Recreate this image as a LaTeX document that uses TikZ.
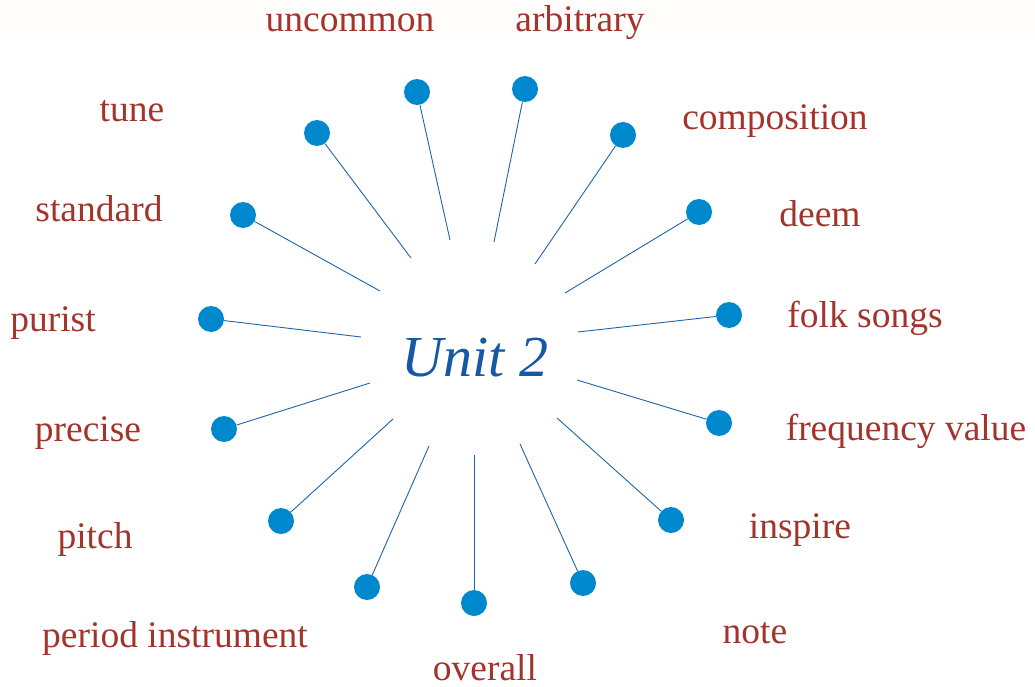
\documentclass[tikz,border=0pt]{standalone}
\usepackage{fontspec}
\setmainfont{Liberation Serif}
\definecolor{lbl}{RGB}{163,52,44}
\definecolor{dotc}{RGB}{0,136,207}
\definecolor{linec}{RGB}{30,100,170}
\definecolor{unitc}{RGB}{22,88,166}
\definecolor{band}{RGB}{254,253,252}
\begin{document}
\begin{tikzpicture}[x=1pt,y=-1pt,
  dotn/.style={circle,fill=dotc,inner sep=0pt,minimum size=26pt},
  lbln/.style={text=lbl,font=\fontsize{37.5}{40}\selectfont,inner sep=0pt},
  spoke/.style={draw=linec,line width=0.9pt}]
\useasboundingbox (0,0) rectangle (1035,687);
\fill[band] (0,0) rectangle (1035,40);
\node[text=unitc,font=\fontsize{58}{62}\itshape] (unit) at (475,358) {Unit 2};
% dots
\node[dotn] (d1) at (417,92) {};
\node[dotn] (d2) at (525,89) {};
\node[dotn] (d3) at (623,135) {};
\node[dotn] (d4) at (699,212) {};
\node[dotn] (d5) at (729,315) {};
\node[dotn] (d6) at (719,423) {};
\node[dotn] (d7) at (671,520) {};
\node[dotn] (d8) at (583,583) {};
\node[dotn] (d9) at (474,603) {};
\node[dotn] (d10) at (367,587) {};
\node[dotn] (d11) at (281,521) {};
\node[dotn] (d12) at (224,429) {};
\node[dotn] (d13) at (211,319) {};
\node[dotn] (d14) at (243,215) {};
\node[dotn] (d15) at (317,133) {};
% inner ends
\coordinate (i1) at (450,240);
\coordinate (i2) at (494,242);
\coordinate (i3) at (535,264);
\coordinate (i4) at (565,293);
\coordinate (i5) at (578,332);
\coordinate (i6) at (577,380);
\coordinate (i7) at (557,418);
\coordinate (i8) at (520,444);
\coordinate (i9) at (474,455);
\coordinate (i10) at (429,446);
\coordinate (i11) at (393,419);
\coordinate (i12) at (370,383);
\coordinate (i13) at (361,337);
\coordinate (i14) at (380,291);
\coordinate (i15) at (411,258);
\foreach \k in {1,...,15} {\draw[spoke] (i\k) -- (d\k);}
% labels
\node[lbln] (l1) at (350,23) {uncommon};
\node[lbln] (l2) at (580,23) {arbitrary};
\node[lbln] (l3) at (775,121) {composition};
\node[lbln] (l4) at (820,214) {deem};
\node[lbln] (l5) at (865,318) {folk songs};
\node[lbln] (l6) at (906,431) {frequency value};
\node[lbln] (l7) at (800,530) {inspire};
\node[lbln] (l8) at (755,633) {note};
\node[lbln] (l9) at (485,668) {overall};
\node[lbln] (l10) at (175,638) {period instrument};
\node[lbln] (l11) at (95,539) {pitch};
\node[lbln] (l12) at (88,433) {precise};
\node[lbln] (l13) at (53,323) {purist};
\node[lbln] (l14) at (99,209) {standard};
\node[lbln] (l15) at (132,111) {tune};
\end{tikzpicture}
\end{document}
